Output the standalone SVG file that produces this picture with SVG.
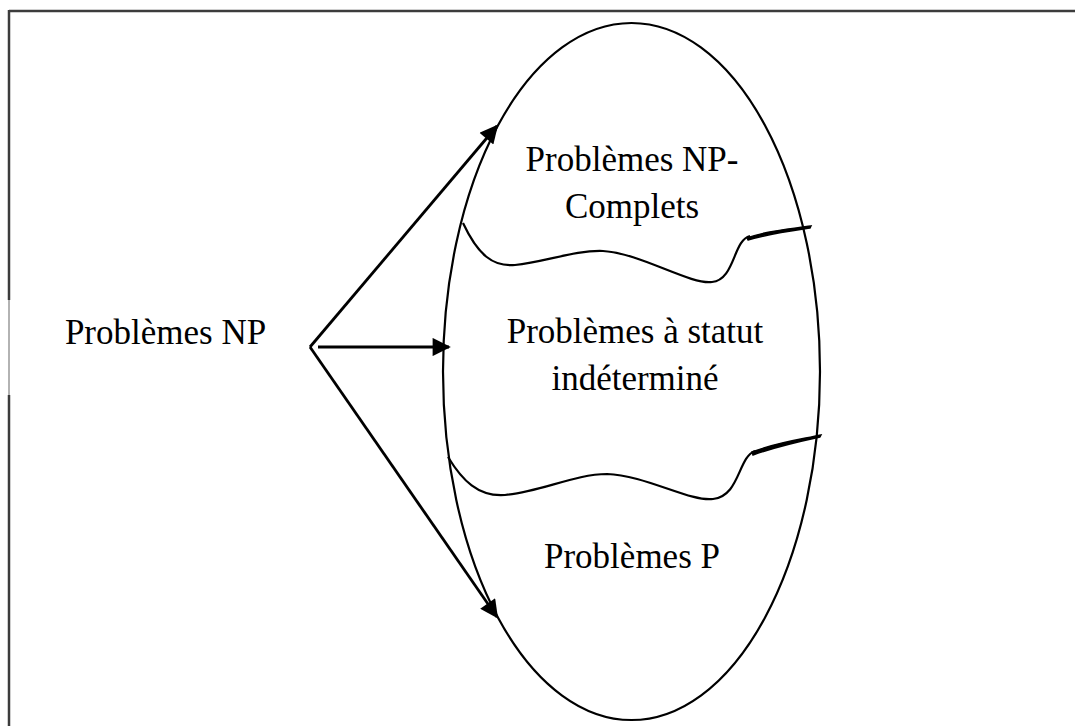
<svg xmlns="http://www.w3.org/2000/svg" width="1075" height="726" viewBox="0 0 1075 726">
  <defs>
    <style>
      .frame { stroke: #3c3c3c; stroke-width: 2.5; fill: none; }
      .frame-light { stroke: #9a9a9a; stroke-width: 1.5; fill: none; }
      .shape { stroke: #000; stroke-width: 2.2; fill: none; }
      .edge { stroke: #000; stroke-width: 2.8; fill: none; }
      .label { font-family: "Liberation Serif", "Times New Roman", serif; font-size: 35px; fill: #000; text-anchor: middle; }
    </style>
    <marker id="arrow" viewBox="0 0 10 10" refX="9" refY="5" markerWidth="7" markerHeight="6.5" markerUnits="strokeWidth" orient="auto">
      <path d="M0,0 L10,5 L0,10 z" fill="#000"/>
    </marker>
  </defs>

  <rect width="1075" height="726" fill="#fff"/>

  <!-- outer frame -->
  <g id="frame">
    <line class="frame" x1="9" y1="11" x2="1075" y2="11"/>
    <line class="frame" x1="9" y1="10" x2="9" y2="300"/>
    <line class="frame-light" x1="9" y1="300" x2="9" y2="395"/>
    <line class="frame" x1="9" y1="395" x2="9" y2="726"/>
  </g>

  <!-- set of NP problems -->
  <g id="np-set">
    <ellipse class="shape" cx="631.5" cy="371.5" rx="188.5" ry="348.5"/>
  </g>

  <!-- boundaries between classes -->
  <g id="boundaries">
    <path class="shape" d="M463,223 C478,255 493,267 515,265 C545,262 575,250 603,251 C640,253 690,285 712,282 C735,280 733,240 750,236"/>
    <path d="M747,238 C768,230 790,229 811,226 L810,228 C790,231 768,234 748,240 z" fill="#000" stroke="#000" stroke-width="1.4"/>
    <path class="shape" d="M448,457 C462,480 478,497 505,495 C540,492 575,474 607,474 C645,475 690,502 713,499 C740,496 738,457 755,451"/>
    <path d="M752,452 C775,443 797,440 821,435 L820,437 C797,442 775,447 753,455 z" fill="#000" stroke="#000" stroke-width="1.4"/>
  </g>

  <!-- connectors -->
  <g id="connectors">
    <line class="edge" x1="310" y1="347" x2="497" y2="126" marker-end="url(#arrow)"/>
    <line class="edge" x1="318" y1="347" x2="449" y2="347" marker-end="url(#arrow)"/>
    <line class="edge" x1="310" y1="347" x2="497" y2="617" marker-end="url(#arrow)"/>
  </g>

  <g id="node-np">
    <text class="label" x="165.5" y="344">Problèmes NP</text>
  </g>
  <g id="node-npc">
    <text class="label" x="632" y="171">Problèmes NP-</text>
    <text class="label" x="632" y="218">Complets</text>
  </g>
  <g id="node-undetermined">
    <text class="label" x="635" y="343">Problèmes à statut</text>
    <text class="label" x="635" y="390">indéterminé</text>
  </g>
  <g id="node-p">
    <text class="label" x="632" y="568">Problèmes P</text>
  </g>
</svg>
